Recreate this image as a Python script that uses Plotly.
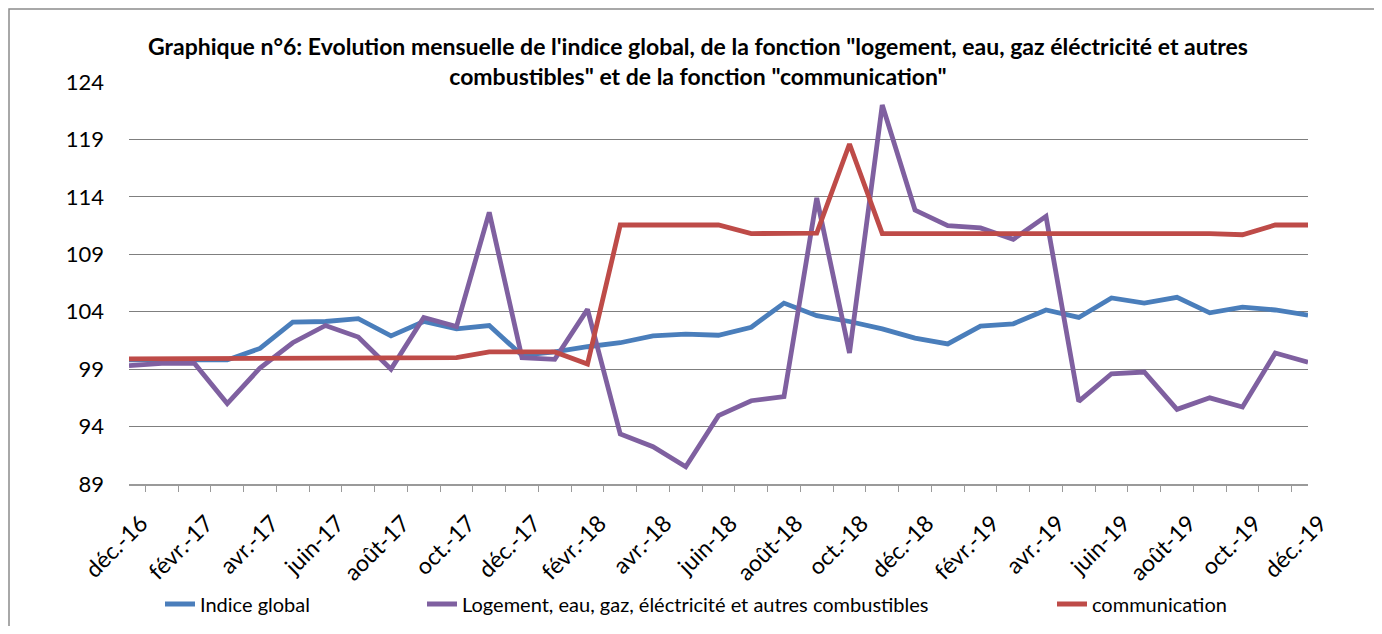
import plotly.graph_objects as go

months = ["déc.-16", "janv.-17", "févr.-17", "mars-17", "avr.-17", "mai-17", "juin-17",
          "juil.-17", "août-17", "sept.-17", "oct.-17", "nov.-17", "déc.-17",
          "janv.-18", "févr.-18", "mars-18", "avr.-18", "mai-18", "juin-18",
          "juil.-18", "août-18", "sept.-18", "oct.-18", "nov.-18", "déc.-18",
          "janv.-19", "févr.-19", "mars-19", "avr.-19", "mai-19", "juin-19",
          "juil.-19", "août-19", "sept.-19", "oct.-19", "nov.-19", "déc.-19"]

indice_global = [99.8, 99.8, 99.8, 99.8, 100.8, 103.1, 103.15, 103.4, 101.9, 103.15, 102.5, 102.8, 100.2,
                 100.5, 100.95, 101.3, 101.9, 102.05, 101.95, 102.65, 104.75, 103.65, 103.15, 102.5, 101.7, 101.2,
                 102.75, 102.95, 104.15, 103.5, 105.2, 104.75, 105.25, 103.9, 104.4, 104.15, 103.7]

logement = [99.3, 99.5, 99.5, 96.0, 99.1, 101.3, 102.8, 101.8, 99.0, 103.5, 102.7, 112.65, 100.0,
            99.85, 104.2, 93.35, 92.25, 90.5, 94.95, 96.25, 96.6, 113.9, 100.4, 122.0, 112.85, 111.5,
            111.3, 110.3, 112.3, 96.2, 98.6, 98.75, 95.5, 96.5, 95.7, 100.4, 99.6]

communication = [99.9, 99.9, 99.9, 99.9, 99.9, 99.95, 100.0, 100.0, 100.0, 100.0, 100.0, 100.5, 100.5,
                 100.5, 99.45, 111.55, 111.55, 111.55, 111.55, 110.8, 110.8, 110.85, 118.6, 110.8, 110.8, 110.8,
                 110.8, 110.8, 110.8, 110.8, 110.8, 110.8, 110.85, 110.8, 110.7, 111.55, 111.55]

series_names = ["Indice global",
                "Logement, eau, gaz, éléctricité et autres combustibles",
                "communication"]
y_ticks = [89, 94, 99, 104, 109, 114, 119, 124]

title_text = ("Graphique n°6: Evolution mensuelle de l'indice global, de la fonction \"logement, eau, gaz éléctricité et autres"
              "<br>combustibles\" et de la fonction \"communication\"")

FONT = "Lato"
colors = ["#4A7EBB", "#7F60A0", "#BE4B48"]

# page body has an 8px margin: the figure is drawn 8px right/down
OFF = 8
W, H = 1366, 618
ML, MT = 129 - OFF, 82 - OFF
MR = W + OFF - 1308
MB = H + OFF - 484
PW = W - ML - MR
PH = H - MT - MB

def px_x(x):
    return (x - OFF - ML) / PW

def px_y(y):
    return (H - MB - (y - OFF)) / PH

fig = go.Figure()
for name, vals, col, lg in zip(series_names, [indice_global, logement, communication], colors,
                               ["legend", "legend2", "legend3"]):
    fig.add_trace(go.Scatter(x=months, y=vals, mode="lines", name=name,
                             line=dict(color=col, width=4.8), legend=lg))

ticktext = [m if i % 2 == 0 else "" for i, m in enumerate(months)]

leg_common = dict(orientation="h", yanchor="middle", y=px_y(604), xanchor="left",
                  font=dict(family=FONT, size=20, color="#000000"), bgcolor="rgba(0,0,0,0)")

fig.update_layout(
    width=W, height=H,
    margin=dict(l=ML, r=MR, t=MT, b=MB, autoexpand=False),
    paper_bgcolor="white", plot_bgcolor="white",
    font=dict(family=FONT, color="#000000"),
    title=dict(text=title_text, xref="container", yref="container",
               x=(698 - OFF) / W, xanchor="center", y=1 - 47 / H, yanchor="top",
               font=dict(family=FONT, size=23, color="#000000", weight="bold")),
    showlegend=True,
    legend=dict(x=px_x(160), **leg_common),
    legend2=dict(x=px_x(422), **leg_common),
    legend3=dict(x=px_x(1052), **leg_common),
    xaxis=dict(type="category", tickmode="array", tickvals=months, ticktext=ticktext,
               tickson="boundaries", ticks="outside", ticklen=6, tickcolor="#9A9A9A",
               showline=True, linecolor="#9A9A9A", linewidth=1.5, showgrid=False,
               automargin=False, ticklabelstandoff=15, ticklabelshift=12,
               tickangle=-45, tickfont=dict(family=FONT, size=23, color="#000000")),
    yaxis=dict(range=[89, 124], tickmode="array", tickvals=y_ticks,
               showgrid=True, gridcolor="#7F7F7F", gridwidth=1, zeroline=False,
               showline=False, ticks="", ticklabelstandoff=24, automargin=False,
               tickfont=dict(family=FONT, size=22, color="#000000")),
    shapes=[dict(type="rect", xref="paper", yref="paper",
                 x0=px_x(9), x1=px_x(1420), y0=px_y(700), y1=px_y(9),
                 line=dict(color="#8C8C8C", width=1.5), fillcolor="rgba(0,0,0,0)", layer="below")],
)

fig.write_html("out.html")
